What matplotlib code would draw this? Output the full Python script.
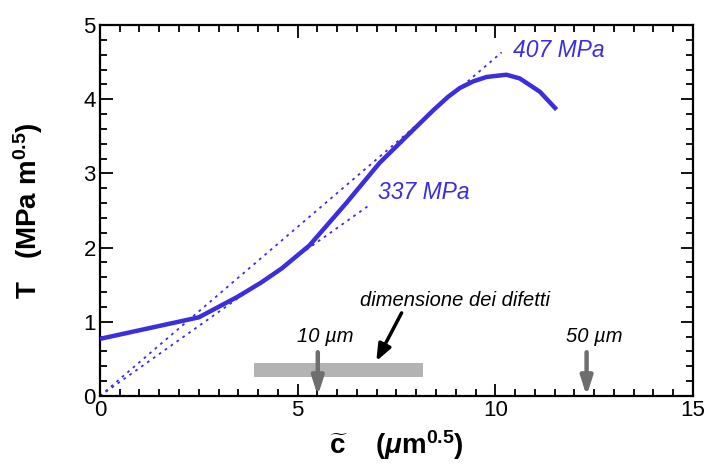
import matplotlib.pyplot as plt
import numpy as np
from matplotlib.ticker import MultipleLocator

plt.rcParams['font.family'] = ['Liberation Sans', 'DejaVu Sans']
plt.rcParams['mathtext.fontset'] = 'custom'
plt.rcParams['mathtext.rm'] = 'Liberation Sans:bold'
plt.rcParams['mathtext.bf'] = 'Liberation Sans:bold'
plt.rcParams['mathtext.it'] = 'Liberation Sans:italic:bold'

BLUE = '#3b2ede'

# Measured curve T(c~)
c_meas = [0.0, 2.50, 3.49, 4.08, 4.60, 5.30, 6.23, 7.07, 7.91, 8.43,
          8.80, 9.10, 9.44, 9.78, 10.28, 10.62, 11.13, 11.55]
T_meas = [0.77, 1.06, 1.34, 1.53, 1.72, 2.03, 2.60, 3.14, 3.58, 3.85,
          4.03, 4.15, 4.24, 4.30, 4.33, 4.28, 4.10, 3.86]

# Reference lines from origin (stress, end of line in c~)
stress_lbl = ['407 MPa', '337 MPa']
stress_val = [407, 337]
line_end = [10.16, 6.84]
label_pos = [(10.44, 4.66), (7.03, 2.74)]
slope_fac = 1.12e-3

# Defect size band and markers
band_c = (3.89, 8.17)
band_T = (0.25, 0.44)
size_lbl = ['10 µm', '50 µm']
size_c = [5.51, 12.31]

fig = plt.figure(figsize=(7.04, 4.65), dpi=100)
ax = fig.add_axes([0.142, 0.1484, 0.8423, 0.7978])

for lbl, s, xe, (tx, ty) in zip(stress_lbl, stress_val, line_end, label_pos):
    xs = np.array([0.0, xe])
    ax.plot(xs, s * slope_fac * xs, color=BLUE, lw=1.3,
            linestyle=(0, (1.5, 2.5)))
    ax.text(tx, ty, lbl, color=BLUE, fontsize=16.5, style='italic',
            va='center', ha='left')

ax.plot(c_meas, T_meas, color=BLUE, lw=3.2, solid_capstyle='butt',
        solid_joinstyle='round', zorder=3)

ax.fill_between(band_c, band_T[0], band_T[1], color='#b3b3b3', lw=0, zorder=2)

for lbl, xc in zip(size_lbl, size_c):
    ax.annotate('', xy=(xc, 0.0), xytext=(xc, 0.59),
                arrowprops=dict(arrowstyle='-|>,head_width=0.35,head_length=1.1',
                                color='#6e6e6e', lw=3.2,
                                shrinkA=0, shrinkB=0), zorder=4)
    ax.text(xc + 0.2, 0.80, lbl, fontsize=14.5, style='italic',
            ha='center', va='center')

ax.annotate('', xy=(6.99, 0.47), xytext=(7.63, 1.12),
            arrowprops=dict(arrowstyle='-|>,head_width=0.4,head_length=1.0',
                            color='black', lw=2.5, shrinkA=0, shrinkB=0))
ax.text(8.99, 1.29, 'dimensione dei difetti', fontsize=14.5, style='italic',
        ha='center', va='center')

ax.set_xlim(0, 15)
ax.set_ylim(0, 5)
ax.xaxis.set_major_locator(MultipleLocator(5))
ax.xaxis.set_minor_locator(MultipleLocator(0.5))
ax.yaxis.set_major_locator(MultipleLocator(1))
ax.yaxis.set_minor_locator(MultipleLocator(0.2))
ax.tick_params(which='both', direction='in', top=True, right=True,
               labelsize=16, width=1.3)
ax.tick_params(which='major', length=9, pad=3)
ax.tick_params(which='minor', length=5)
for sp in ax.spines.values():
    sp.set_linewidth(1.6)

ax.set_xlabel(r'$\widetilde{\mathrm{c}}$    ($\mu$m$^{0.5}$)', fontsize=20,
              fontweight='bold', va='center')
ax.xaxis.set_label_coords(0.5, -0.132)
ax.set_ylabel(r'T   (MPa m$^{0.5}$)', fontsize=20, fontweight='bold',
              va='center')
ax.yaxis.set_label_coords(-0.121, 0.5)

fig.savefig('out.png', dpi=100)
